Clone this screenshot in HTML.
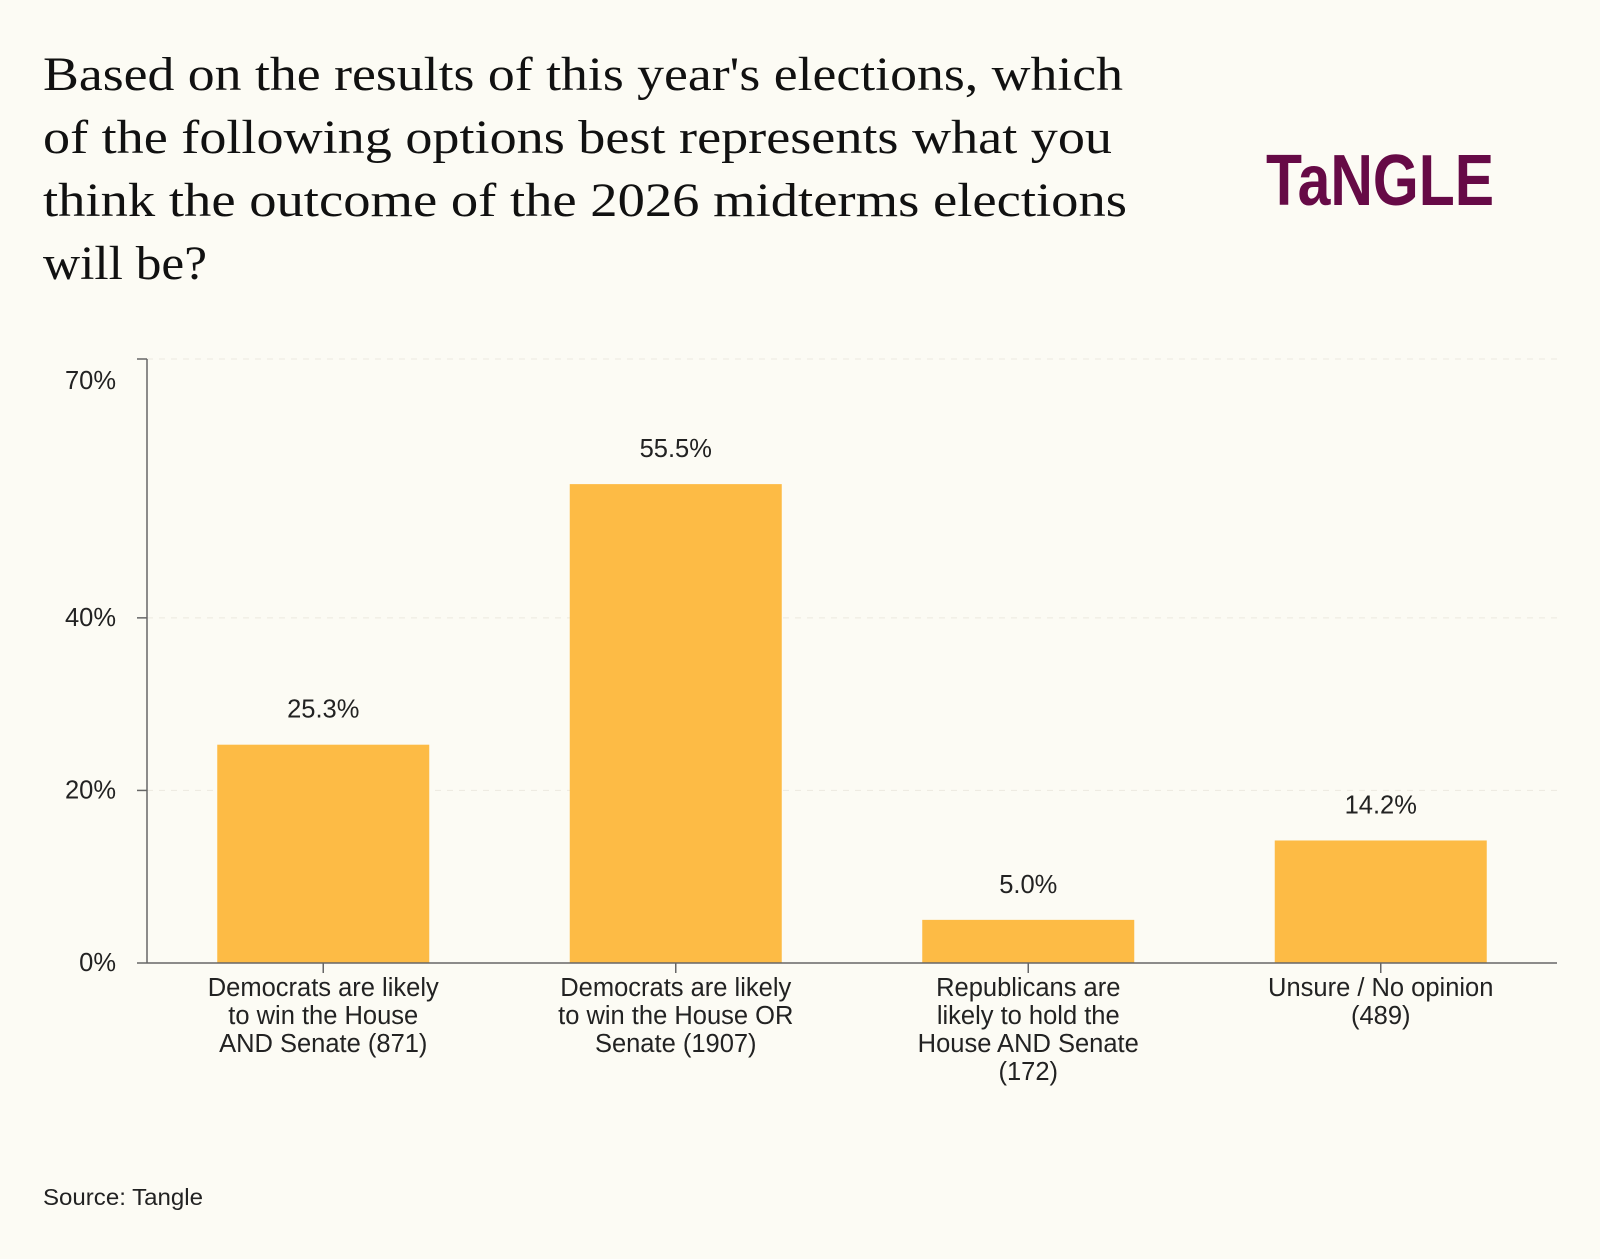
<!DOCTYPE html>
<html><head><meta charset="utf-8"><style>
body{margin:0;background:#fcfbf4;}
svg{display:block}
</style></head><body>
<svg id="c" width="1600" height="1259" viewBox="0 0 1600 1259">
<rect width="1600" height="1259" fill="#fcfbf4"/>
<g font-family="Liberation Serif, serif" font-size="48" fill="#111" lengthAdjust="spacingAndGlyphs">
<text x="43" y="90" textLength="1080" lengthAdjust="spacingAndGlyphs">Based on the results of this year's elections, which</text>
<text x="43" y="153" textLength="1069" lengthAdjust="spacingAndGlyphs">of the following options best represents what you</text>
<text x="43" y="216" textLength="1084" lengthAdjust="spacingAndGlyphs">think the outcome of the 2026 midterms elections</text>
<text x="43" y="279" textLength="164" lengthAdjust="spacingAndGlyphs">will be?</text>
</g>
<text x="1266" y="205" font-family="Liberation Sans, sans-serif" font-weight="bold" font-size="72" fill="#660a46" textLength="228" lengthAdjust="spacingAndGlyphs">TaNGLE</text>
<g id="plot"></g>
<text x="43" y="1205" font-family="Liberation Sans, sans-serif" font-size="23" fill="#222" textLength="160" lengthAdjust="spacingAndGlyphs">Source: Tangle</text>
</svg>
<script>
const categories=[["Democrats are likely","to win the House","AND Senate (871)"],["Democrats are likely","to win the House OR","Senate (1907)"],["Republicans are","likely to hold the","House AND Senate","(172)"],["Unsure / No opinion","(489)"]];
const values=[25.3,55.5,5.0,14.2];
const valueLabels=["25.3%","55.5%","5.0%","14.2%"];
const ticks=[0,20,40,70];
const tickLabels=["0%","20%","40%","70%"];
const NS="http://www.w3.org/2000/svg";
const g=document.getElementById('plot');
const x0=147,x1=1557,y0=963,yTop=359,maxV=70;
const y=v=>y0-(v/maxV)*(y0-yTop);
const band=(x1-x0)/categories.length;
const xc=i=>x0+band*(i+0.5);
const FS=25.5;
function el(t,a){const e=document.createElementNS(NS,t);for(const k in a)e.setAttribute(k,a[k]);g.appendChild(e);return e;}
ticks.forEach((t,i)=>{
  const yy=y(t);
  if(t>0){const l=el('line',{x1:x0,x2:x1,y1:yy,y2:yy,stroke:'#ebe9df','stroke-dasharray':'6 6','stroke-width':1});
  
  }
  const tk=el('line',{x1:x0-10,x2:x0,y1:yy,y2:yy,stroke:'#666','stroke-width':1.5});
  
  
  const ly=Math.max(yy+8,yTop+30);
  const tx=el('text',{x:116,y:ly,'text-anchor':'end','font-family':'Liberation Sans, sans-serif','font-size':FS,fill:'#222'});
  tx.textContent=tickLabels[i];
  
  
});
const ax=el('line',{x1:x0,x2:x0,y1:yTop,y2:y0,stroke:'#666','stroke-width':1.5});


const bw=212;
values.forEach((v,i)=>{
  const r=el('rect',{x:xc(i)-bw/2,y:y(v),width:bw,height:y0-y(v),fill:'#fdbb45'});
  
  
  const t=el('text',{x:xc(i),y:y(v)-27,'text-anchor':'middle','font-family':'Liberation Sans, sans-serif','font-size':FS,fill:'#222'});
  t.textContent=valueLabels[i];
  
  
  categories[i].forEach((ln,j)=>{
    const c=el('text',{x:xc(i),y:y0+33+j*28,'text-anchor':'middle','font-family':'Liberation Sans, sans-serif','font-size':FS,fill:'#222'});
    c.textContent=ln;
    
    
  });
  const xt=el('line',{x1:xc(i),x2:xc(i),y1:y0,y2:y0+10,stroke:'#666','stroke-width':1.5});
  
  
});
const xa=el('line',{x1:x0,x2:x1,y1:y0,y2:y0,stroke:'#666','stroke-width':1.5});


</script>
</body></html>
